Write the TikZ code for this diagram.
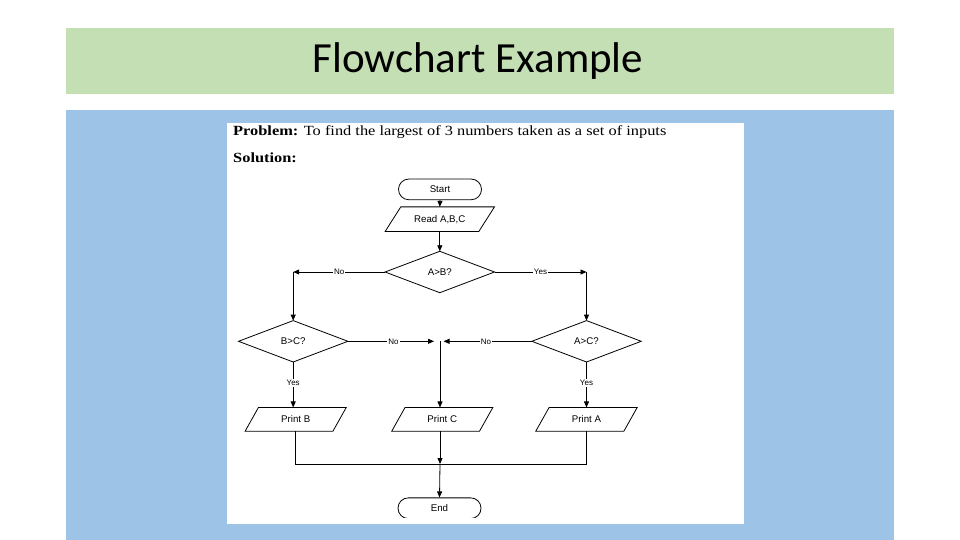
\documentclass[tikz,border=0pt]{standalone}
\usepackage{fontspec}
\setmainfont{Liberation Serif}
\newfontfamily\calibrifont{Carlito}
\newfontfamily\arialfont{Liberation Sans}
\usetikzlibrary{arrows.meta,calc}
\definecolor{hdrgreen}{HTML}{C5DFB5}
\definecolor{bodyblue}{HTML}{9DC3E6}
\begin{document}
\begin{tikzpicture}[x=1pt,y=-1pt,
  shapeline/.style={draw=black,line width=0.8pt},
  arr/.style={draw=black,line width=0.8pt,-{Triangle[length=6pt,width=5pt]}},
  conn/.style={draw=black,line width=0.8pt},
  box/.style={inner sep=0pt,font=\arialfont\fontsize{9.7}{10}\selectfont},
  lbl/.style={fill=white,inner sep=1pt,font=\arialfont\fontsize{8}{8}\selectfont},
  term/.style={box,draw=black,line width=0.8pt,rounded corners=10.3pt,minimum width=83pt,minimum height=20.7pt}
]
\useasboundingbox (0,0) rectangle (960,540);
\fill[white] (0,0) rectangle (960,540);
\fill[hdrgreen] (66,28) rectangle (894,94);
\fill[bodyblue] (66,110) rectangle (894,540);
\fill[white] (227,123) rectangle (744,524);

\node[anchor=base,font=\calibrifont\fontsize{43}{43}\selectfont] (title) at (478,73) {Flowchart Example};

\node[anchor=base west,font=\fontsize{14}{14}\selectfont,inner sep=0pt] (prob) at (233,135.3) {\scalebox{1.17}[1]{\textbf{Problem:} To find the largest of 3 numbers taken as a set of inputs}};
\node[anchor=base west,font=\fontsize{14}{14}\selectfont\bfseries,inner sep=0pt] (sol) at (233,163) {\scalebox{1.17}[1]{Solution:}};

% nodes
\node[term] (start) at (440,189.4) {Start};
\node[box,minimum width=109pt,minimum height=24.3pt] (read) at (439.8,219.2) {Read A,B,C};
\node[box,minimum width=109pt,minimum height=41pt] (ab) at (439.8,272) {A>B?};
\node[box,minimum width=109pt,minimum height=41pt] (bc) at (293.2,341.3) {B>C?};
\node[box,minimum width=109pt,minimum height=41pt] (ac) at (586.5,341.3) {A>C?};
\node[box,minimum width=100.7pt,minimum height=23.3pt] (pb) at (295.7,419.3) {Print B};
\node[box,minimum width=100.7pt,minimum height=23.3pt] (pc) at (442.3,419.3) {Print C};
\node[box,minimum width=101pt,minimum height=23.3pt] (pa) at (586.5,419.3) {Print A};
\begin{scope}
  \clip (380,490) rectangle (500,517);
  \node[term] (end) at (439.5,508.2) {End};
\end{scope}

% parallelograms
\foreach \n/\s in {read/15.7,pb/13.3,pc/13.3,pa/13.3}{
  \draw[shapeline] ($(\n.north west)+(\s,0)$) -- (\n.north east) -- ($(\n.south east)-(\s,0)$) -- (\n.south west) -- cycle;
}
% diamonds
\foreach \n in {ab,bc,ac}{
  \draw[shapeline] (\n.north) -- (\n.east) -- (\n.south) -- (\n.west) -- cycle;
}

% helper coordinates
\coordinate (cl) at (293.2,272);
\coordinate (cr) at (586.5,272);
\coordinate (cm) at (440,341.3);
\coordinate (cmL) at (434,341.3);
\coordinate (cmR) at (443.5,341.3);
\coordinate (cj) at (440,464);

% connectors
\draw[arr] (start.south) -- (read.north);
\draw[arr] (read.south) -- (ab.north);
\draw[arr] (ab.west) -- node[lbl,pos=0.5] {No} (cl);
\draw[arr] (cl) -- (bc.north);
\draw[arr] (ab.east) -- node[lbl,pos=0.5] {Yes} (cr);
\draw[arr] (cr) -- (ac.north);
\draw[arr] (bc.east) -- node[lbl,pos=0.53] {No} (cmL);
\draw[arr] (ac.west) -- node[lbl,pos=0.52] {No} (cmR);
\draw[arr] (cm) -- (cm |- pc.north);
\draw[arr] (bc.south) -- node[lbl,pos=0.46] {Yes} (bc.south |- pb.north);
\draw[arr] (ac.south) -- node[lbl,pos=0.46] {Yes} (ac.south |- pa.north);
\draw[conn] (pb.south) -- (pb.south |- cj) -- (pa.south |- cj) -- (pa.south);
\draw[arr] (cm |- pc.south) -- (cj);
\draw[arr] (cj) -- (end.north);
\end{tikzpicture}
\end{document}
